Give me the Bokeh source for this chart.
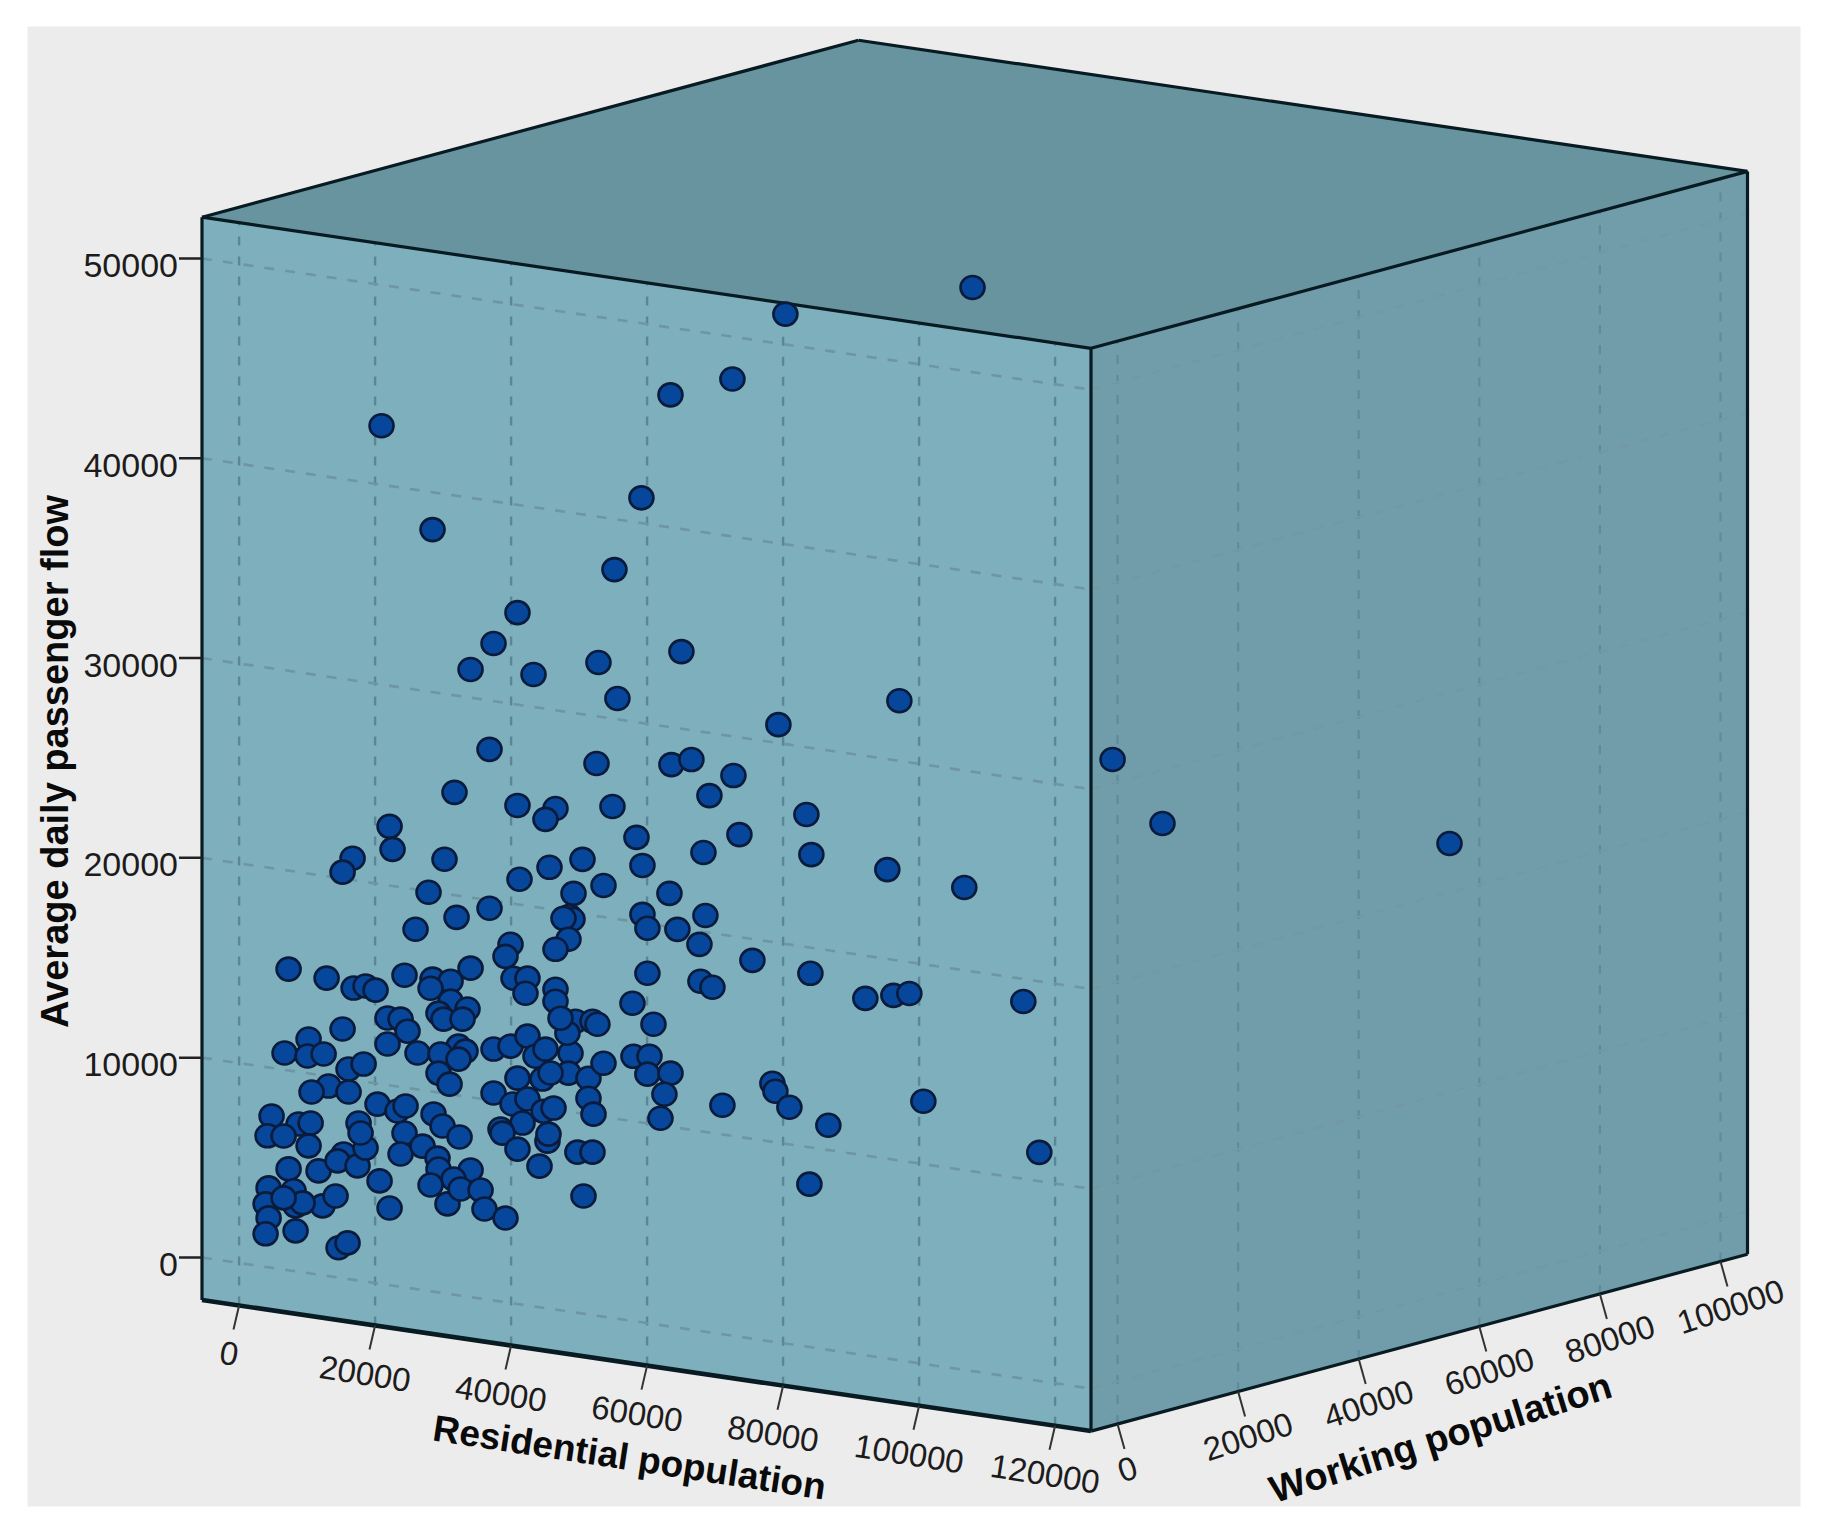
from bokeh.plotting import figure
from bokeh.models import Range1d
from bokeh.core.properties import value
from bokeh.embed import file_html
from bokeh.resources import INLINE
import math

# Axis ticks and titles
residential_ticks = [0, 20000, 40000, 60000, 80000, 100000, 120000]
working_ticks = [0, 20000, 40000, 60000, 80000, 100000]
flow_ticks = [0, 10000, 20000, 30000, 40000, 50000]
residential_title = "Residential population"
working_title = "Working population"
flow_title = "Average daily passenger flow"

# Points. The depth of a point cannot be read from a
# single projection, so this group is read on the working-population = 0 plane.
residential = [
    76440, 68650, 59540, 17050, 55270, 24550, 51300, 37040, 33520, 61150,
    48950, 30140, 39400, 51740, 75410, 32930, 48660, 59680, 62620, 68800,
    65270, 27780, 37040, 42630, 41160, 51010, 18230, 12790, 11320, 18670,
    26310, 54540, 69680, 64390, 55420, 46600, 41750, 37340, 23960, 49690,
    45280, 59390, 32930, 28080, 44690, 55420, 64680, 60560, 22050, 79530,
    80260, 93200, 91430, 102750, 63800, 71590, 80120, 63950, 65710, 88200,
    92320, 94670, 111430, 74530, 74970, 77030, 67180, 82760, 96730, 113780,
    79970, 56150, 45130, 43810, 44540, 42630, 36020, 35280, 36460, 38510,
    38220, 42630, 42630, 56150, 53950, 57040, 3380, 8970, 12940, 14700,
    16170, 20430, 24550, 27200, 24260, 30140, 27200, 29690, 25430, 26170,
    28960, 17930, 19850, 20870, 17930, 22340, 28370, 29400, 25730, 28370,
    25430, 27050, 11320, 6320, 2790, 6170, 8530, 12200, 14410, 9260,
    6760, 12200, 880, 4850, 6620, 290, 2650, 6320, 3380, 7790,
    11470, 10580, 13520, 14700, 13670, 13970, 16460, 19400, 20580, 20430,
    19850, 23080, 24700, 26020, 28520, 25280, 25430, 30140, 27640, 24260,
    26750, 28670, 31610, 32190, 35280, 16760, 18230, 440, 4120, 0,
    4410, 8380, 10290, 5440, 440, 0, 4410, 10730, 12050, 2650,
    33520, 36020, 38510, 39690, 41160, 44840, 44540, 47480, 49690, 37040,
    40720, 41900, 33520, 36310, 38510, 40870, 42340, 37780, 34550, 34840,
    47480, 48220, 41450, 41600, 37040, 40280, 45860, 48070, 46750, 54100,
    56450, 56150, 59540, 58650, 58070, 45570, 48070, 44390, 43370, 48800,
]
flow = [
    50970, 47330, 46080, 42400, 40710, 37580, 36920, 34050, 32330, 33310,
    32150, 30860, 31070, 30490, 30370, 27000, 27080, 27580, 27980, 27490,
    26310, 24590, 24400, 24530, 23910, 25050, 22410, 20540, 19770, 21280,
    21170, 23680, 24580, 23420, 22320, 22180, 21540, 20720, 19400, 21030,
    20410, 21120, 19050, 18350, 19230, 19870, 20280, 19380, 17450, 26080,
    24110, 32460, 23920, 23590, 18790, 18380, 18160, 16950, 16740, 17310,
    17670, 17880, 18320, 12380, 12000, 11300, 10910, 10690, 12590, 10890,
    7600, 19210, 19110, 19090, 18080, 17480, 17400, 16760, 15720, 15830,
    15060, 15480, 14880, 16960, 15350, 14450, 14520, 14350, 14050, 14240,
    14110, 15070, 15080, 15110, 14610, 15910, 14110, 13840, 13420, 13160,
    13300, 12800, 12840, 12290, 11500, 11270, 11920, 11720, 11390, 11270,
    10420, 9950, 11920, 11170, 10290, 10310, 10530, 9960, 10320, 8960,
    8540, 8810, 7040, 6840, 6980, 6020, 6130, 5820, 4520, 4640,
    5670, 5280, 5180, 6130, 7330, 6850, 8420, 8220, 8530, 7170,
    6090, 6650, 8340, 7800, 7380, 6160, 5620, 5810, 5230, 4760,
    3940, 4780, 4880, 3960, 3660, 4590, 3310, 3420, 3460, 2600,
    2720, 2920, 3510, 2920, 1920, 1100, 1470, 940, 1250, 3030,
    12030, 12300, 12930, 11980, 12410, 12390, 11380, 11270, 12130, 10750,
    10890, 11250, 9830, 9420, 9780, 9290, 9520, 8540, 8080, 7890,
    10270, 9510, 7820, 8180, 7200, 6510, 7490, 7600, 5340, 12700,
    12820, 11910, 12130, 11030, 9800, 14030, 14150, 13370, 14070, 14040,
]
# Points that only fit inside the box with a large working population (estimated)
residential_far = [68490, 71350, 69820, 85430]
working_far = [40000, 60000, 70000, 100000]
flow_far = [48650, 23540, 19450, 16790]

# Extent of the box in data units
R_MIN, R_MAX = -5456, 125280
W_MIN, W_MAX = -4395, 104478
F_MIN, F_MAX = -2127, 52067


def project(r, w, f):
    """Axonometric view of the box, in page pixels."""
    return (265.1 + 0.0068 * r + 0.00603 * w,
            1255.3 + 0.001003 * r - 0.001625 * w - 0.01998 * f)


def face(points):
    xy = [project(*pt) for pt in points]
    return [a for a, _ in xy], [b for _, b in xy]


def segments(pairs):
    xs, ys = [], []
    for a, b in pairs:
        x, y = face([a, b])
        xs.append(x)
        ys.append(y)
    return xs, ys


p = figure(width=1810, height=1523, x_range=Range1d(0, 1810), y_range=Range1d(1523, 0),
           output_backend="svg", toolbar_location=None, min_border=0,
           x_axis_type=None, y_axis_type=None, background_fill_color="white",
           border_fill_color="white", outline_line_color=None)
p.xgrid.visible = False
p.ygrid.visible = False

# Grey panel
p.quad(left=27, right=1800, top=26, bottom=1506, fill_color="#ececec", line_color=None)

# Faces
x, y = face([(R_MIN, W_MIN, F_MIN), (R_MAX, W_MIN, F_MIN), (R_MAX, W_MIN, F_MAX), (R_MIN, W_MIN, F_MAX)])
p.patch(x, y, fill_color="#7eafbd", line_color=None)
x, y = face([(R_MAX, W_MIN, F_MIN), (R_MAX, W_MAX, F_MIN), (R_MAX, W_MAX, F_MAX), (R_MAX, W_MIN, F_MAX)])
p.patch(x, y, fill_color="#719dab", line_color=None)
x, y = face([(R_MIN, W_MIN, F_MAX), (R_MAX, W_MIN, F_MAX), (R_MAX, W_MAX, F_MAX), (R_MIN, W_MAX, F_MAX)])
p.patch(x, y, fill_color="#67949f", line_color=None)

# Grid on the faces
left_v = [((r, W_MIN, F_MIN), (r, W_MIN, F_MAX)) for r in residential_ticks]
left_h = [((R_MIN, W_MIN, f), (R_MAX, W_MIN, f)) for f in flow_ticks]
right_v = [((R_MAX, w, F_MIN), (R_MAX, w, F_MAX)) for w in working_ticks]
right_h = [((R_MAX, W_MIN, f), (R_MAX, W_MAX, f)) for f in flow_ticks]
xs, ys = segments(left_v)
p.multi_line(xs, ys, line_color="#5c8694", line_width=2.4, line_dash="9 11")
xs, ys = segments(left_h)
p.multi_line(xs, ys, line_color="#6f95a3", line_width=2.6, line_dash="10 11")
xs, ys = segments(right_v)
p.multi_line(xs, ys, line_color="#5f8a99", line_width=2.2, line_dash="9 11")
xs, ys = segments(right_h)
p.multi_line(xs, ys, line_color="#7497a4", line_width=2.4, line_dash="10 11")

# Box edges
edges = [
    ((R_MIN, W_MIN, F_MIN), (R_MIN, W_MIN, F_MAX)),
    ((R_MAX, W_MIN, F_MIN), (R_MAX, W_MIN, F_MAX)),
    ((R_MAX, W_MAX, F_MIN), (R_MAX, W_MAX, F_MAX)),
    ((R_MAX, W_MIN, F_MIN), (R_MAX, W_MAX, F_MIN)),
    ((R_MIN, W_MIN, F_MAX), (R_MAX, W_MIN, F_MAX)),
    ((R_MAX, W_MIN, F_MAX), (R_MAX, W_MAX, F_MAX)),
    ((R_MIN, W_MIN, F_MAX), (R_MIN, W_MAX, F_MAX)),
    ((R_MIN, W_MAX, F_MAX), (R_MAX, W_MAX, F_MAX)),
]
xs, ys = segments(edges)
p.multi_line(xs, ys, line_color="#081a22", line_width=3.2)
x, y = face([(R_MIN, W_MIN, F_MIN), (R_MAX, W_MIN, F_MIN)])
p.line(x, y, line_color="#081a22", line_width=4.5)

# Ticks
LABEL = dict(text_font=value("Liberation Sans"), text_color="#1c1c1c",
             text_align="center", text_baseline="middle")
xs, ys, lx, ly = [], [], [], []
for r in residential_ticks:
    a, b = project(r, W_MIN, F_MIN)
    xs.append([a, a - 5.6]); ys.append([b, b + 24])
    lx.append(a - 10); ly.append(b + 48)
p.multi_line(xs, ys, line_color="#333333", line_width=2)
p.text(lx, ly, text=[str(t) for t in residential_ticks], text_font_size="33px",
       angle=math.radians(-9), **LABEL)

xs, ys, lx, ly = [], [], [], []
for w in working_ticks:
    a, b = project(R_MAX, w, F_MIN)
    xs.append([a, a + 7]); ys.append([b, b + 25])
    lx.append(a + 10); ly.append(b + 45)
p.multi_line(xs, ys, line_color="#333333", line_width=2)
p.text(lx, ly, text=[str(t) for t in working_ticks], text_font_size="33px",
       angle=math.radians(18), **LABEL)

xs, ys, lx, ly = [], [], [], []
for f in flow_ticks:
    a, b = project(R_MIN, W_MIN, f)
    xs.append([a, a - 23]); ys.append([b, b])
    lx.append(a - 24); ly.append(b + 7)
p.multi_line(xs, ys, line_color="#222222", line_width=2.5)
p.text(lx, ly, text=[str(t) for t in flow_ticks], text_font_size="34px",
       text_font=value("Liberation Sans"), text_color="#1c1c1c",
       text_align="right", text_baseline="middle")

# Axis titles
TITLE = dict(text_font=value("Liberation Sans"), text_font_style="bold", text_color="#0a0a0a",
             text_align="center", text_baseline="middle")
p.text([629], [1457], text=[residential_title], angle=math.radians(-8.6), text_font_size="37px", **TITLE)
p.text([1440], [1437], text=[working_title], angle=math.radians(17.4), text_font_size="38px", **TITLE)
p.text([54], [761], text=[flow_title], angle=math.pi / 2, text_font_size="38px", **TITLE)

# Points
xy = [project(r, 0, f) for r, f in zip(residential, flow)]
xy += [project(r, w, f) for r, w, f in zip(residential_far, working_far, flow_far)]
p.ellipse([a for a, _ in xy], [b for _, b in xy], width=24, height=23,
          fill_color="#07479b", line_color="#0a1b3c", line_width=2.6)

open("out.html", "w").write(file_html(p, INLINE))
